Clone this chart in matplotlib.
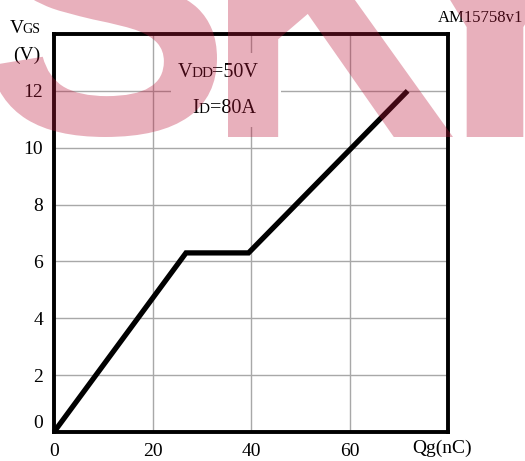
import matplotlib
matplotlib.use("Agg")
import matplotlib.pyplot as plt
from matplotlib.patches import Rectangle, PathPatch
from matplotlib.offsetbox import TextArea, HPacker, AnnotationBbox
from matplotlib.textpath import TextPath
from matplotlib.font_manager import FontProperties
from matplotlib.transforms import Affine2D, IdentityTransform

# gate charge curve
qg = [0, 26.8, 39.5, 71.8]
vgs = [0, 6.3, 6.3, 12.0]

x_ticks = [0, 20, 40, 60, 80]
x_labels = ["0", "20", "40", "60", ""]
y_ticks = [0, 2, 4, 6, 8, 10, 12]
y_labels = ["0", "2", "4", "6", "8", "10", "12"]

W, H = 525, 461
serif = "Liberation Serif"
wm_color = (188 / 255, 24 / 255, 59 / 255)


def fx(px):
    return px / W


def fy(py):
    return 1 - py / H


def small_caps(fig, parts, x, y, size, sep=0):
    # pieces on one baseline, the smaller ones look like small caps
    kids = [TextArea(s, textprops=dict(family=serif, fontsize=size * k))
            for s, k in parts]
    box = HPacker(children=kids, align="baseline", pad=0, sep=sep)
    ab = AnnotationBbox(box, (fx(x), fy(y)), xycoords="figure fraction",
                        box_alignment=(0, 0), frameon=False, pad=0, zorder=5)
    fig.add_artist(ab)


def big_letter(fig, ch, left, right, top, bottom):
    p = TextPath((0, 0), ch, size=100,
                 prop=FontProperties(family="Liberation Sans", weight="bold"))
    ext = p.get_extents()
    sx = (right - left) / ext.width
    sy = (bottom - top) / ext.height
    tr = (Affine2D().translate(-ext.x0, -ext.y0).scale(sx, sy)
          .translate(left, H - bottom))
    fig.add_artist(PathPatch(tr.transform_path(p), facecolor=wm_color,
                             edgecolor="none", alpha=0.34,
                             transform=IdentityTransform(), zorder=10))


fig = plt.figure(figsize=(W / 100, H / 100), dpi=100)
ax = fig.add_axes([fx(54), fy(432), fx(448) - fx(54), fy(34) - fy(432)])

ax.plot(qg, vgs, color="black", lw=3.8, solid_joinstyle="miter",
        solid_capstyle="butt", clip_on=False, zorder=4)

ax.set_xlim(0, 80)
ax.set_ylim(0, 14)
ax.set_xticks(x_ticks)
ax.set_xticklabels(x_labels, family=serif, fontsize=14)
ax.set_yticks(y_ticks)
ax.set_yticklabels(y_labels, family=serif, fontsize=14)
ax.tick_params(length=0, pad=8)
ax.yaxis.get_ticklabels()[0].set_va("bottom")
ax.grid(True, color="#a8a8a8", lw=1)
ax.set_axisbelow(True)
for sp in ax.spines.values():
    sp.set_linewidth(2.8)
    sp.set_color("black")
    sp.set_zorder(6)

# white patch behind the test conditions
ax.add_patch(Rectangle((23.8, 10.72), 22.2, 2.6, facecolor="white",
                       edgecolor="none", zorder=2))
small_caps(fig, [("V", 1.0), ("DD", 0.75), ("=50V", 1.0)], 178, 82, 14.5,
           sep=-1)
small_caps(fig, [("I", 1.0), ("D", 0.75), ("=80A", 1.0)], 192, 118, 14.5)

# axis titles
small_caps(fig, [("V", 1.0), ("GS", 0.72)], 10, 37, 14, sep=-1)
fig.text(fx(27), fy(55), "(V)", family=serif, fontsize=14, ha="center",
         va="center")
fig.text(fx(442), fy(448), "Qg(nC)", family=serif, fontsize=14, ha="center",
         va="center")
fig.text(fx(523), fy(18), "AM15758v1", family=serif, fontsize=12, ha="right",
         va="center")

# watermark
big_letter(fig, "S", -10, 217, -131, 137)
big_letter(fig, "K", 228, 453, -131, 137)
big_letter(fig, "Y", 370, 620, -131, 137)

fig.savefig("out.png", dpi=100)
